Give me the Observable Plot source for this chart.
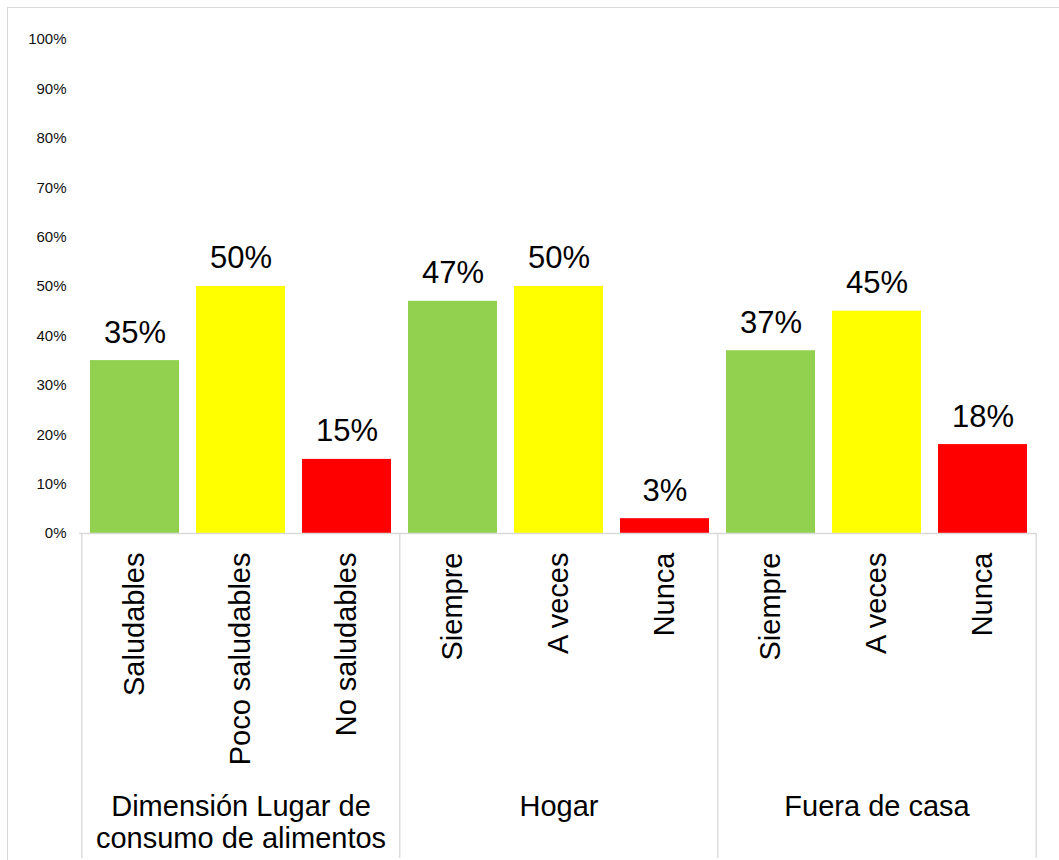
<!DOCTYPE html>
<html>
<head>
<meta charset="utf-8">
<script src="https://cdn.jsdelivr.net/npm/d3@7"></script>
<script src="https://cdn.jsdelivr.net/npm/@observablehq/plot@0.6"></script>
<style>
  html, body { margin: 0; padding: 0; background: #fff; overflow: hidden; }
  #wrap { position: relative; width: 1059px; height: 860px; }
  #wrap svg { position: absolute; left: 0; top: 0; }
  #frame { position: absolute; left: 7px; top: 7px; width: 2000px; height: 2000px;
           border: 1px solid #d9d9d9; pointer-events: none; }
</style>
</head>
<body>
<div id="wrap"><div id="frame"></div></div>
<script>
// ---- data ----
const groups = ["Dimensión Lugar de\nconsumo de alimentos", "Hogar", "Fuera de casa"];
const categories = ["Saludables", "Poco saludables", "No saludables",
                    "Siempre", "A veces", "Nunca",
                    "Siempre", "A veces", "Nunca"];
const groupOf = [0, 0, 0, 1, 1, 1, 2, 2, 2];
const values = [0.35, 0.50, 0.15, 0.47, 0.50, 0.03, 0.37, 0.45, 0.18];
const levelColors = ["#92D050", "#FFFF00", "#FF0000"];
const yTicks = [0, 0.1, 0.2, 0.3, 0.4, 0.5, 0.6, 0.7, 0.8, 0.9, 1.0];

const data = categories.map((c, i) => ({
  i, cat: c, group: groupOf[i], value: values[i], level: i % 3
}));
const groupData = groups.map((g, k) => ({
  label: g,
  i: data.filter(d => d.group === k)[1].i
}));

// ---- layout ----
const W = 1059, H = 860;
const mL = 79, mR = 22, mT = 39, mB = 327;
const pInner = 0.164, pOuter = 0.082;
const step = (W - mL - mR) / (categories.length - pInner + 2 * pOuter);
const sepColor = "#d9d9d9";
const pct = d3.format(".0%");

const chart = Plot.plot({
  width: W,
  height: H,
  marginLeft: mL,
  marginRight: mR,
  marginTop: mT,
  marginBottom: mB,
  style: { fontFamily: "'Liberation Sans', Arial, sans-serif", fontSize: "15px", color: "#000", background: "transparent" },
  x: { type: "band", domain: d3.range(categories.length), paddingInner: pInner, paddingOuter: pOuter, axis: null },
  y: { domain: [0, 1], axis: null },
  color: { type: "identity" },
  marks: [
    Plot.text(yTicks, { y: d => d, text: d => pct(d), frameAnchor: "left", textAnchor: "end",
                        dx: -13, fontSize: 15, fill: "#111" }),
    Plot.barY(data, { x: "i", y: "value", fill: d => levelColors[d.level] }),
    Plot.ruleY([0], { stroke: sepColor, strokeWidth: 1.3 }),
    Plot.ruleX(data.filter(d => d.level === 0), {
      x: "i", y: 0, dx: -step / 2, insetBottom: -(mB - 2), stroke: sepColor, strokeWidth: 1.3
    }),
    Plot.ruleX(data.filter(d => d.i === categories.length - 1), {
      x: "i", y: 0, dx: step / 2, insetBottom: -(mB - 2), stroke: sepColor, strokeWidth: 1.3
    }),
    Plot.text(data, {
      x: "i", y: "value", text: d => Math.round(d.value * 100) + "%",
      dy: -28, fontSize: 31, fill: "#000"
    }),
    Plot.text(data, {
      x: "i", y: 0, text: "cat", rotate: -90, textAnchor: "end",
      dy: 19, fontSize: 29, fill: "#000"
    }),
    Plot.text(groupData, {
      x: "i", y: 0, text: "label", lineAnchor: "top", lineHeight: 1.1,
      dy: 260, fontSize: 29, fill: "#000"
    })
  ]
});
document.getElementById("wrap").insertBefore(chart, document.getElementById("frame"));
</script>
</body>
</html>
